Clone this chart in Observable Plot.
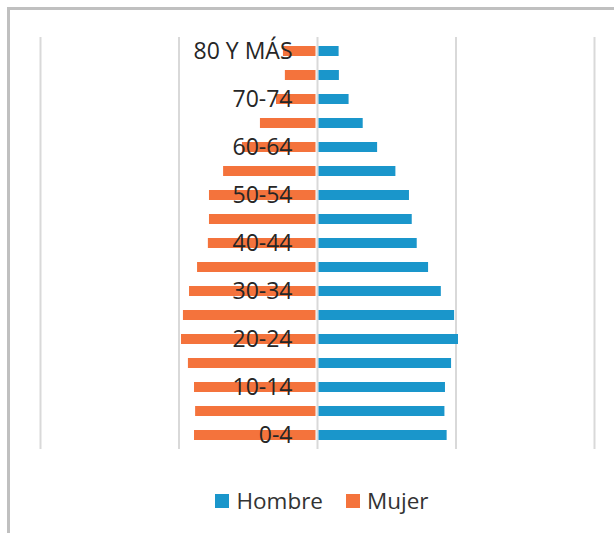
<!DOCTYPE html>
<html>
<head>
<meta charset="utf-8">
<script src="https://cdn.jsdelivr.net/npm/d3@7"></script>
<script src="https://cdn.jsdelivr.net/npm/@observablehq/plot@0.6"></script>
<style>
  html, body { margin: 0; padding: 0; background: #fff; }
  #wrap { position: relative; width: 614px; height: 533px; overflow: hidden; font-family: "Open Sans", sans-serif; }
  #frame { position: absolute; left: 7px; top: 7px; width: 700px; height: 600px; border-left: 3px solid #c0c0c0; border-top: 3px solid #c0c0c0; box-sizing: border-box; }
  #chart { position: absolute; left: 0; top: 0; }
  #legend { position: absolute; left: 15px; top: 485px; width: 614px; display: flex; justify-content: center; gap: 23px; font-size: 22.5px; color: #333; }
  .item { display: flex; align-items: center; gap: 7px; }
  .sw { width: 14px; height: 14px; display: inline-block; }
</style>
</head>
<body>
<div id="wrap">
  <div id="frame"></div>
  <div id="chart"></div>
  <div id="legend"></div>
</div>
<script>
const ages = ["0-4","5-9","10-14","15-19","20-24","25-29","30-34","35-39","40-44","45-49","50-54","55-59","60-64","65-69","70-74","75-79","80 Y MÁS"];
const hombre = [468, 460, 462, 484, 509, 495, 447, 401, 360, 342, 332, 283, 217, 165, 114, 79, 78];
const mujer  = [444, 440, 444, 466, 491, 484, 462, 433, 394, 390, 390, 339, 271, 206, 148, 116, 123];
const gridTicks = [-1000, -500, 0, 500, 1000];
const seriesNames = ["Hombre", "Mujer"];
const colors = ["#1a96cb", "#f4733c"];

const rows = ages.map((a, i) => ({age: a, hombre: hombre[i], mujer: mujer[i]}));
const labelRows = rows.filter((d, i) => i % 2 === 0);

const plot = Plot.plot({
  width: 614,
  height: 460,
  marginTop: 37,
  marginBottom: 11,
  marginLeft: 40,
  marginRight: 20,
  x: {domain: [-1000, 1000], axis: null},
  y: {domain: ages.slice().reverse(), axis: null, paddingInner: 0.58, paddingOuter: 0.29},
  style: {fontFamily: "Open Sans, sans-serif", background: "transparent"},
  marks: [
    Plot.ruleX(gridTicks, {stroke: "#d9d9d9", strokeWidth: 2}),
    Plot.barX(rows, {y: "age", x1: 0, x2: "hombre", fill: colors[0], insetLeft: 1.5}),
    Plot.barX(rows, {y: "age", x1: d => -d.mujer, x2: 0, fill: colors[1], insetRight: 1.5}),
    Plot.text(labelRows, {y: "age", x: 0, text: "age", textAnchor: "end", dx: -25, fontSize: 23, fill: "#262626"})
  ]
});
document.getElementById("chart").appendChild(plot);

const legend = document.getElementById("legend");
seriesNames.forEach((n, i) => {
  const it = document.createElement("span");
  it.className = "item";
  const sw = document.createElement("span");
  sw.className = "sw";
  sw.style.background = colors[i];
  const t = document.createElement("span");
  t.textContent = n;
  it.appendChild(sw); it.appendChild(t);
  legend.appendChild(it);
});
</script>
</body>
</html>
